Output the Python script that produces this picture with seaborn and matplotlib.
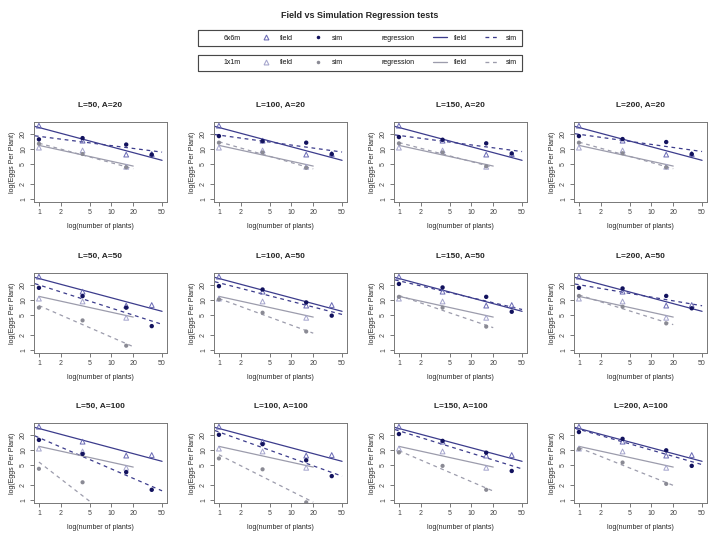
import numpy as np
import pandas as pd
import matplotlib
matplotlib.use("Agg")
import matplotlib.pyplot as plt
from matplotlib.lines import Line2D
import seaborn as sns

# plot sizes (m) and simulation parameters
L_values = [50, 100, 150, 200]
A_values = [20, 50, 100]

x_6x6 = [1, 4, 16, 36]
x_1x1 = [1, 4, 16]

# field data is the same in every panel
field_6x6 = [29.0, 14.6, 7.7, 7.9]
field_1x1 = [10.6, 9.3, 4.4]

# simulation output, one list per L (50, 100, 150, 200)
sim6_A20 = [[15.5, 16.4, 12.2, 7.7], [18.0, 14.3, 13.3, 7.9],
            [17.2, 15.2, 12.9, 8.1], [18.0, 15.7, 13.7, 7.9]]
sim6_A50 = [[17.4, 11.9, 7.0, 3.0], [18.8, 16.1, 8.9, 4.85],
            [20.8, 17.7, 11.5, 5.8], [17.4, 16.9, 12.0, 6.8]]
sim6_A100 = [[15.8, 8.3, 3.6, 1.6], [20.0, 13.0, 6.2, 3.0],
             [20.7, 15.1, 8.8, 3.8], [22.7, 16.6, 9.8, 4.8]]

sim1_A20 = [[12.7, 7.9, 4.3], [13.3, 8.5, 4.2], [12.9, 8.5, 4.5], [13.3, 8.2, 4.3]]
sim1_A50 = [[7.0, 3.9, 1.22], [10.2, 5.55, 2.34], [11.5, 7.0, 2.93], [12.0, 7.3, 3.4]]
sim1_A100 = [[4.2, 2.26, 0.19], [6.75, 4.1, 0.9], [8.9, 4.8, 1.6], [10.4, 5.6, 2.1]]

sim6 = {20: sim6_A20, 50: sim6_A50, 100: sim6_A100}
sim1 = {20: sim1_A20, 50: sim1_A50, 100: sim1_A100}

xticks = [1, 2, 5, 10, 20, 50]
yticks = [1, 2, 5, 10, 20]

c6_field = "#6a6ab4"
c6_sim = "#12125e"
c6_line = "#3c3c8c"
c1_field = "#a4a4cc"
c1_sim = "#8a8a94"
c1_line = "#9c9cac"

sns.set_style("ticks")
plt.rcParams['font.family'] = ['Liberation Sans', 'DejaVu Sans']

fig = plt.figure(figsize=(7.2, 5.4), dpi=100)


def fit_line(x, y, lo, hi):
    b, a = np.polyfit(np.log10(x), np.log10(y), 1)
    xx = np.geomspace(lo, hi, 40)
    return xx, 10 ** (a + b * np.log10(xx))


row_top = [122, 273, 423]
for r, A in enumerate(A_values):
    for c, L in enumerate(L_values):
        ax = fig.add_axes([(34 + 180 * c) / 720, 1 - (row_top[r] + 80) / 540,
                           133 / 720, 80 / 540])
        ax.set_xscale("log")
        ax.set_yscale("log")
        s6 = sim6[A][c]
        s1 = sim1[A][c]

        # regression lines
        xx, yy = fit_line(x_6x6, field_6x6, 0.88, 50)
        sns.lineplot(x=xx, y=yy, ax=ax, color=c6_line, lw=0.9, sort=False, estimator=None)
        xx, yy = fit_line(x_6x6, s6, 0.88, 50)
        sns.lineplot(x=xx, y=yy, ax=ax, color=c6_line, lw=0.9, ls=(0, (3, 3)), sort=False, estimator=None)
        xx, yy = fit_line(x_1x1, field_1x1, 1, 20)
        sns.lineplot(x=xx, y=yy, ax=ax, color=c1_line, lw=0.9, sort=False, estimator=None)
        xx, yy = fit_line(x_1x1, s1, 1, 20)
        sns.lineplot(x=xx, y=yy, ax=ax, color=c1_line, lw=0.9, ls=(0, (3, 3)), sort=False, estimator=None)

        # points
        sns.scatterplot(x=x_1x1, y=field_1x1, ax=ax, marker="^", s=12,
                        facecolor="none", edgecolor=c1_field, linewidth=0.7, zorder=3)
        sns.scatterplot(x=x_1x1, y=s1, ax=ax, marker="o", s=9,
                        color=c1_sim, edgecolor="none", zorder=3)
        sns.scatterplot(x=x_6x6, y=field_6x6, ax=ax, marker="^", s=12,
                        facecolor="none", edgecolor=c6_field, linewidth=0.7, zorder=4)
        sns.scatterplot(x=x_6x6, y=s6, ax=ax, marker="o", s=10,
                        color=c6_sim, edgecolor="none", zorder=4)

        ax.set_xlim(10 ** -0.068, 10 ** (np.log10(50) + 0.068))
        ax.set_ylim(10 ** -0.059, 10 ** (np.log10(30) + 0.059))
        ax.minorticks_off()
        ax.set_xticks(xticks)
        ax.set_xticklabels([str(t) for t in xticks])
        ax.set_yticks(yticks)
        ax.set_yticklabels([str(t) for t in yticks], rotation=90, va="center")
        ax.tick_params(direction="out", length=3, width=0.5, labelsize=5, pad=2,
                       colors="#444444")
        for sp in ax.spines.values():
            sp.set_visible(True)
            sp.set_color("#777777")
            sp.set_linewidth(0.7)
        ax.set_title(f"L={L}, A={A}", fontsize=6, fontweight="bold", pad=11)
        ax.set_xlabel("log(number of plants)", fontsize=5, labelpad=5)
        ax.set_ylabel("log(Eggs Per Plant)", fontsize=5, labelpad=3)

fig.text(0.5, 1 - 15 / 540, "Field vs Simulation Regression tests",
         ha="center", va="center", fontsize=6.5, fontweight="bold")

blank = Line2D([], [], linestyle="none")
legend_rows = [("6x6m", c6_field, c6_sim, c6_line, 29),
               ("1x1m", c1_field, c1_sim, c1_line, 54)]
for name, cf, cs, cl, top in legend_rows:
    handles = [blank,
               Line2D([], [], ls="none", marker="^", ms=3.5, mfc="none", mec=cf, mew=0.7),
               Line2D([], [], ls="none", marker="o", ms=2.5, mfc=cs, mec="none"),
               blank,
               Line2D([], [], color=cl, lw=0.9),
               Line2D([], [], color=cl, lw=0.9, ls=(0, (3, 3)))]
    labels = [name, "field", "sim", "regression", "field", "sim"]
    leg = fig.legend(handles, labels, loc="center", ncol=6, mode="expand",
                     bbox_to_anchor=(195 / 720, 1 - (top + 18) / 540, 330 / 720, 18 / 540),
                     frameon=True, fancybox=False, edgecolor="#333333", fontsize=5,
                     handlelength=2.0, handletextpad=1.0, borderpad=0.6)
    leg.get_frame().set_linewidth(0.8)
    fig.add_artist(leg)

fig.savefig("out.png", dpi=100)
